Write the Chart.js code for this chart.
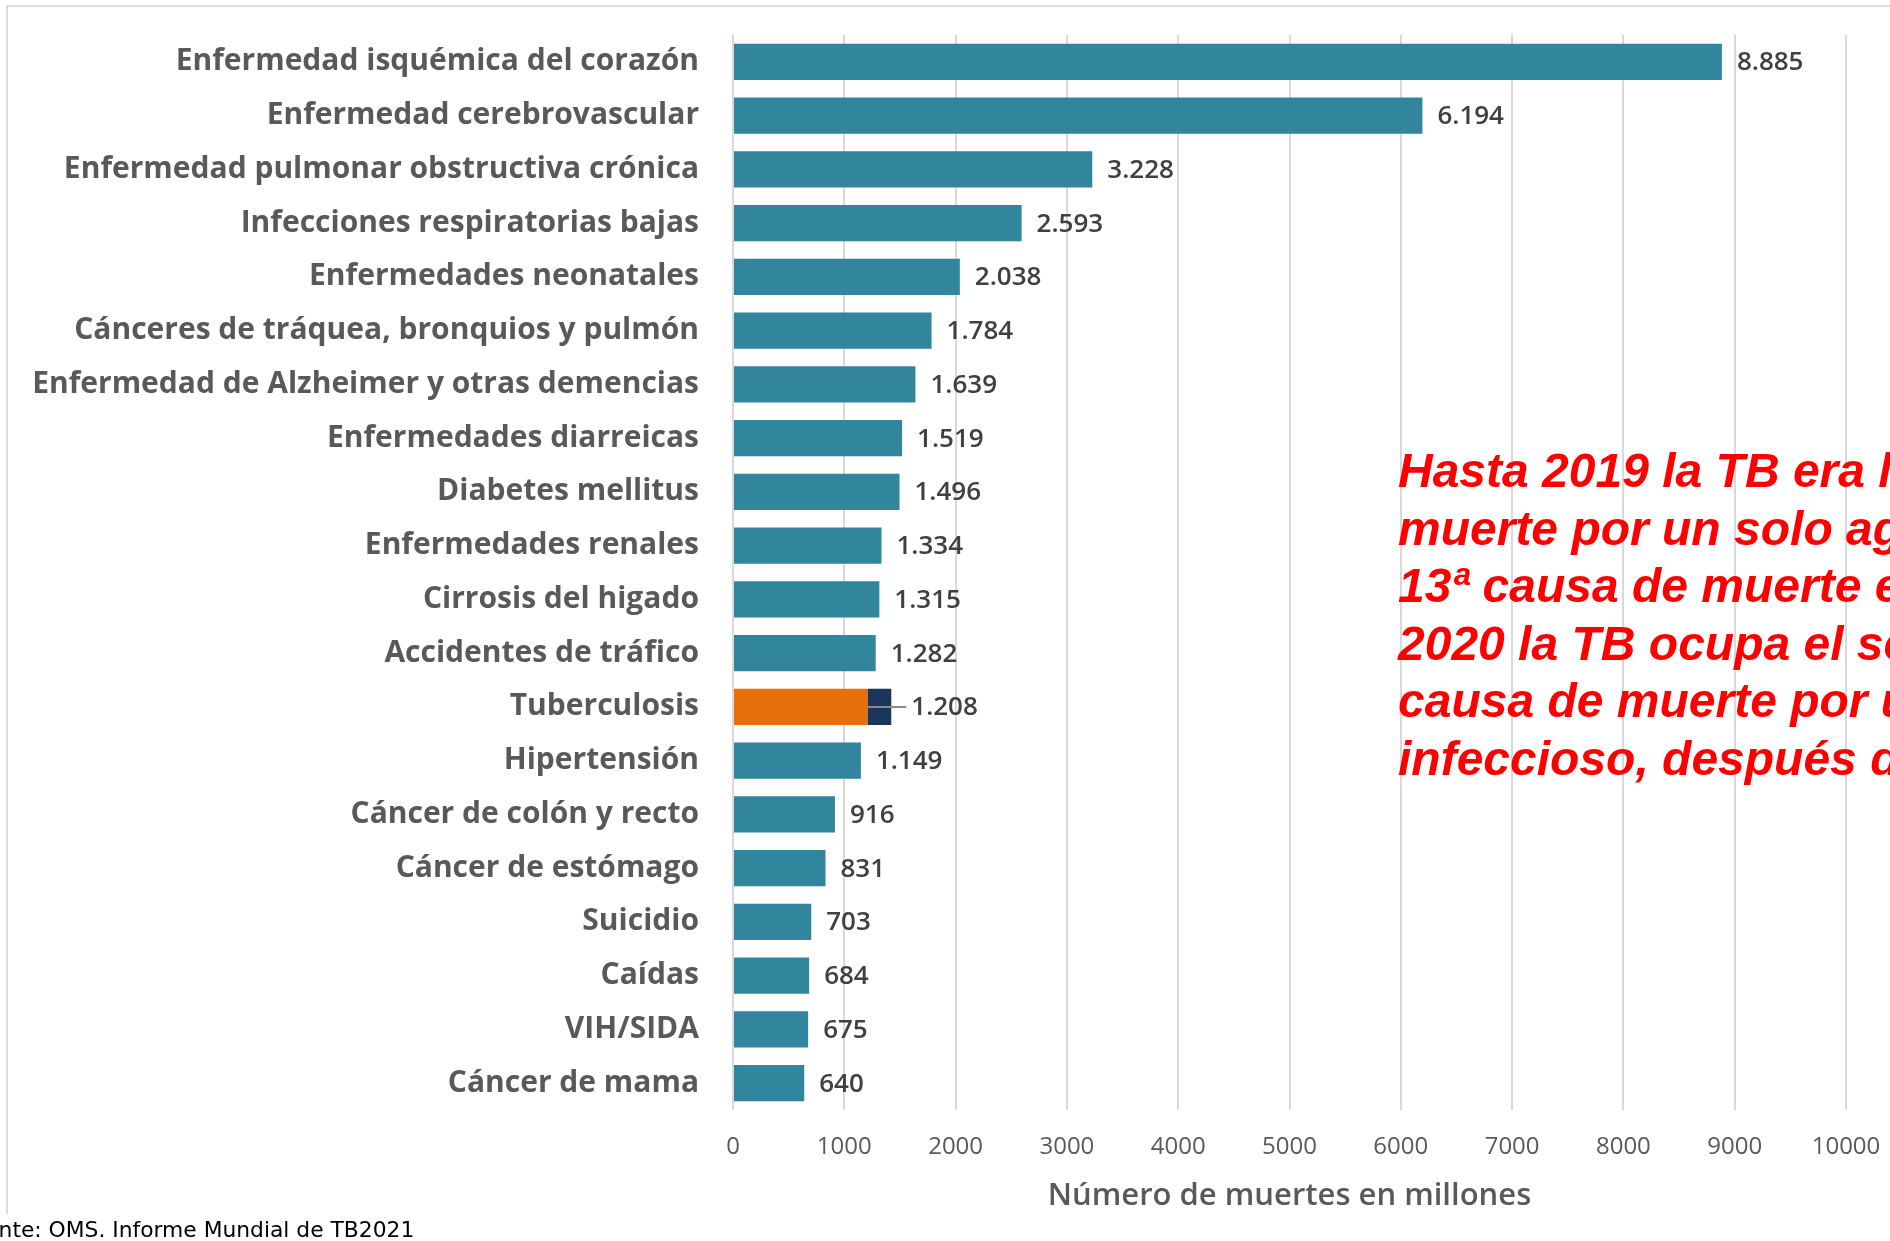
<!DOCTYPE html>
<html lang="es">
<head>
<meta charset="utf-8">
<title>Principales causas de muerte</title>
<script src="https://cdn.jsdelivr.net/npm/chart.js@4.4.1/dist/chart.umd.min.js"></script>
<style>
  html, body { margin: 0; padding: 0; background: #ffffff; overflow: hidden; }
  #wrap { position: relative; width: 1890px; height: 1241px; overflow: hidden; background: #ffffff; }
  #frame { position: absolute; left: 6px; top: 5px; width: 2000px; height: 1207px;
           border-top: 2px solid #dadada; border-left: 2px solid #dadada; }
  #chart { position: absolute; left: 0; top: 0; }
  #note { position: absolute; left: 1398px; top: 442px; color: #ff0000;
          font: italic bold 48px "Liberation Sans", Arial, sans-serif; line-height: 57.6px; white-space: nowrap; }
  #src { position: absolute; left: -40px; top: 1219px; color: #000000;
         font: 21.8px "DejaVu Sans", sans-serif; line-height: 22px; white-space: nowrap; }
</style>
</head>
<body>
<div id="wrap">
  <div id="frame"></div>
  <canvas id="chart" width="1890" height="1241" style="width:1890px;height:1241px"></canvas>
  <div id="note">
    <div>Hasta 2019 la TB era la primera causa de</div>
    <div>muerte por un solo agente infeccioso y la</div>
    <div>13ª causa de muerte en el mundo. En</div>
    <div>2020 la TB ocupa el segundo lugar como</div>
    <div>causa de muerte por un solo agente</div>
    <div>infeccioso, después de la COVID-19</div>
  </div>
  <div id="src">Fuente: OMS. Informe Mundial de TB2021</div>
</div>
<script>
// ---- data ----
const categories = [
  "Enfermedad isquémica del corazón",
  "Enfermedad cerebrovascular",
  "Enfermedad pulmonar obstructiva crónica",
  "Infecciones respiratorias bajas",
  "Enfermedades neonatales",
  "Cánceres de tráquea, bronquios y pulmón",
  "Enfermedad de Alzheimer y otras demencias",
  "Enfermedades diarreicas",
  "Diabetes mellitus",
  "Enfermedades renales",
  "Cirrosis del higado",
  "Accidentes de tráfico",
  "Tuberculosis",
  "Hipertensión",
  "Cáncer de colón y recto",
  "Cáncer de estómago",
  "Suicidio",
  "Caídas",
  "VIH/SIDA",
  "Cáncer de mama"
];
const deaths = [8885, 6194, 3228, 2593, 2038, 1784, 1639, 1519, 1496, 1334, 1315, 1282, 1208, 1149, 916, 831, 703, 684, 675, 640];
const tbHivDeaths = [null, null, null, null, null, null, null, null, null, null, null, null, 214, null, null, null, null, null, null, null];
const highlighted = "Tuberculosis";
const xTicks = [0, 1000, 2000, 3000, 4000, 5000, 6000, 7000, 8000, 9000, 10000];
const axisTitle = "Número de muertes en millones";

const TEAL = "#31859c", ORANGE = "#e8700c", NAVY = "#1b365d";

function fmt(v) {
  if (v >= 1000) return Math.floor(v / 1000) + "." + String(v % 1000).padStart(3, "0");
  return String(v);
}

const valueLabels = {
  id: "valueLabels",
  afterDatasetsDraw(chart) {
    const ctx = chart.ctx;
    const m0 = chart.getDatasetMeta(0), m1 = chart.getDatasetMeta(1);
    ctx.save();
    ctx.font = '600 26px "Open Sans"';
    ctx.textBaseline = "middle";
    ctx.textAlign = "left";
    m0.data.forEach((bar, i) => {
      let end = bar.x;
      const extra = tbHivDeaths[i];
      if (extra) end = m1.data[i].x;
      const lx = end + (extra ? 20 : 15);
      if (extra) {
        ctx.strokeStyle = "#8a8a8a";
        ctx.lineWidth = 2;
        ctx.beginPath();
        ctx.moveTo(bar.x, bar.y);
        ctx.lineTo(lx - 5, bar.y);
        ctx.stroke();
      }
      ctx.fillStyle = "#404040";
      ctx.fillText(fmt(deaths[i]), lx, bar.y + 1);
    });
    ctx.restore();
  }
};

function zeroPadding(s) {
  s.paddingTop = 0; s.paddingBottom = 0; s.paddingLeft = 0; s.paddingRight = 0;
}

function draw() {
  const ctx = document.getElementById("chart").getContext("2d");
  new Chart(ctx, {
    type: "bar",
    data: {
      labels: categories,
      datasets: [
        { data: deaths, backgroundColor: categories.map(c => c === highlighted ? ORANGE : TEAL),
          barPercentage: 0.675, categoryPercentage: 1 },
        { data: tbHivDeaths, backgroundColor: NAVY, barPercentage: 0.675, categoryPercentage: 1 }
      ]
    },
    options: {
      indexAxis: "y",
      responsive: false,
      animation: false,
      devicePixelRatio: 1,
      layout: { padding: { top: 35, right: 44, bottom: 1, left: 0 } },
      plugins: { legend: { display: false }, tooltip: { enabled: false } },
      scales: {
        x: {
          stacked: true, min: 0, max: 10000,
          afterBuildTicks(s) { s.ticks = xTicks.map(v => ({ value: v })); },
          ticks: { padding: 23, color: "#595959", maxRotation: 0, autoSkip: false,
                   font: { family: "Open Sans", size: 24 },
                   callback: (v) => String(v) },
          grid: { color: "#d9d9d9", lineWidth: 2, drawTicks: false },
          border: { display: false },
          title: { display: true, text: axisTitle, color: "#595959",
                   font: { family: "Open Sans", size: 31, weight: "600" },
                   padding: { top: 0, bottom: 25 } },
          afterFit(s) { s.height = 130; zeroPadding(s); }
        },
        y: {
          stacked: true,
          grid: { display: false, drawTicks: false },
          border: { display: false },
          ticks: { padding: 34, color: "#595959", autoSkip: false,
                   font: { family: "Open Sans", size: 30, weight: "bold" } },
          afterFit(s) { s.width = 733; zeroPadding(s); }
        }
      }
    },
    plugins: [valueLabels]
  });
}

if (document.fonts && document.fonts.load) {
  Promise.all([
    document.fonts.load('bold 30px "Open Sans"'),
    document.fonts.load('600 26px "Open Sans"'),
    document.fonts.load('24px "Open Sans"')
  ]).then(draw, draw);
} else {
  draw();
}
</script>
</body>
</html>
